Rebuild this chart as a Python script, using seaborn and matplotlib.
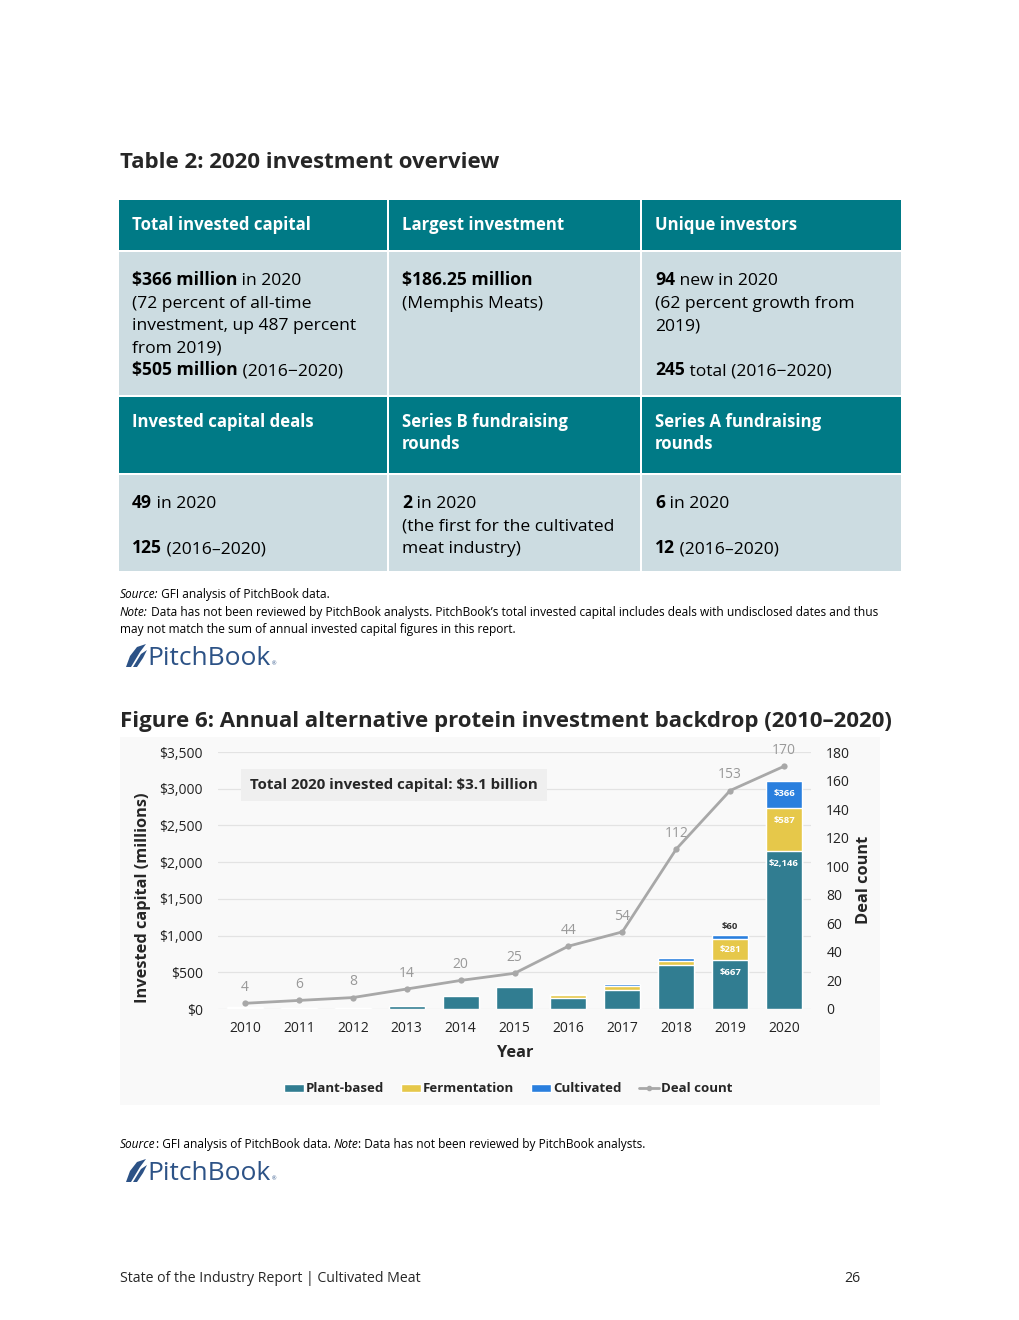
import numpy as np
import pandas as pd
import seaborn as sns
import matplotlib
matplotlib.use("Agg")
import matplotlib.pyplot as plt
from matplotlib.patches import Rectangle, Polygon, Patch
from matplotlib.lines import Line2D

# ---- data ----
years = ["2010", "2011", "2012", "2013", "2014", "2015", "2016", "2017", "2018", "2019", "2020"]
plant_based = [18, 10, 12, 38, 177, 298, 152, 262, 598, 667, 2146]
fermentation = [0, 0, 0, 6, 0, 4, 36, 54, 55, 281, 587]
cultivated = [4, 2, 2, 2, 2, 4, 14, 22, 40, 60, 366]
deal_count = [4, 6, 8, 14, 20, 25, 44, 54, 112, 153, 170]
capital_ticks = [0, 500, 1000, 1500, 2000, 2500, 3000, 3500]
count_ticks = [0, 20, 40, 60, 80, 100, 120, 140, 160, 180]

table_headers = [
    ["Total invested capital", "Largest investment", "Unique investors"],
    ["Invested capital deals", "Series B fundraising\nrounds", "Series A fundraising\nrounds"],
]
table_cells = [
    [
        [[("$366 million", "bold"), (" in 2020", "normal")],
         [("(72 percent of all-time", "normal")],
         [("investment, up 487 percent", "normal")],
         [("from 2019)", "normal")],
         [("$505 million", "bold"), (" (2016\u22122020)", "normal")]],
        [[("$186.25 million", "bold")],
         [("(Memphis Meats)", "normal")]],
        [[("94", "bold"), (" new in 2020", "normal")],
         [("(62 percent growth from", "normal")],
         [("2019)", "normal")],
         [("", "normal")],
         [("245", "bold"), (" total (2016\u22122020)", "normal")]],
    ],
    [
        [[("49", "bold"), (" in 2020", "normal")],
         [("", "normal")],
         [("125", "bold"), (" (2016\u20132020)", "normal")]],
        [[("2", "bold"), (" in 2020", "normal")],
         [("(the first for the cultivated", "normal")],
         [("meat industry)", "normal")]],
        [[("6", "bold"), (" in 2020", "normal")],
         [("", "normal")],
         [("12", "bold"), (" (2016\u20132020)", "normal")]],
    ],
]

TEAL = "#317D91"
YELLOW = "#E6C84A"
BLUE = "#2A7FDE"
GRAY_LINE = "#A8A8A8"
HEAD = "#007A86"
BODY = "#CCDCE1"
LOGO = "#2C5286"

W, H = 1020, 1320
FONT = ["Open Sans", "DejaVu Sans"]

sns.set_theme(style="white")
plt.rcParams["font.family"] = FONT

fig = plt.figure(figsize=(W / 100, H / 100), dpi=100)
fig.patch.set_facecolor("white")
renderer = fig.canvas.get_renderer()


def fx(x):
    return x / W


def fy(y):
    return 1 - y / H


def runs(x, y, parts, size, color="black"):
    # draw consecutive text runs (text, weight[, style]) on one baseline
    cx = x
    for part in parts:
        txt, weight = part[0], part[1]
        st = part[2] if len(part) > 2 else "normal"
        if not txt:
            continue
        t = fig.text(fx(cx), fy(y), txt, fontsize=size, fontweight=weight,
                     fontstyle=st, color=color, ha="left", va="baseline")
        cx = t.get_window_extent(renderer).x1


# ---- table ----
fig.text(fx(120), fy(163), "Table 2: 2020 investment overview", fontsize=16,
         fontweight="bold", ha="left", va="center")

col_x = [(119, 387), (389, 640), (642, 901)]
rows = [((200, 250), (252, 395)), ((397, 473), (475, 571))]
for r, ((h0, h1), (b0, b1)) in enumerate(rows):
    for c, (x0, x1) in enumerate(col_x):
        fig.add_artist(Rectangle((fx(x0), fy(h1)), fx(x1) - fx(x0), fy(h0) - fy(h1),
                                 transform=fig.transFigure, facecolor=HEAD, edgecolor="none"))
        fig.add_artist(Rectangle((fx(x0), fy(b1)), fx(x1) - fx(x0), fy(b0) - fy(b1),
                                 transform=fig.transFigure, facecolor=BODY, edgecolor="none"))
        for k, line in enumerate(table_headers[r][c].split("\n")):
            fig.text(fx(x0 + 13), fy(h0 + 30 + 22 * k), line, fontsize=12.1,
                     fontweight="bold", color="white", ha="left", va="baseline")
        for k, line in enumerate(table_cells[r][c]):
            runs(x0 + 13, b0 + 33 + 22.6 * k, line, 12.6)

runs(120, 598, [("Source:", "normal", "italic"), (" GFI analysis of PitchBook data.", "normal")], 8.6)
runs(120, 616, [("Note:", "normal", "italic"),
                (" Data has not been reviewed by PitchBook analysts. PitchBook\u2019s total invested "
                 "capital includes deals with undisclosed dates and thus", "normal")], 8.6)
runs(120, 633, [("may not match the sum of annual invested capital figures in this report.", "normal")], 8.6)


def logo(y):
    # feather mark + wordmark
    pts = [(126, y + 11), (131, y + 11), (140, y - 4), (146, y - 12), (137, y - 9), (130, y)]
    fig.add_artist(Polygon([(fx(a), fy(b)) for a, b in pts], closed=True,
                           transform=fig.transFigure, facecolor=LOGO, edgecolor="none"))
    pts = [(133, y + 11), (137, y + 11), (143, y + 2), (147, y - 6), (141, y - 2)]
    fig.add_artist(Polygon([(fx(a), fy(b)) for a, b in pts], closed=True,
                           transform=fig.transFigure, facecolor=LOGO, edgecolor="none"))
    runs(147, y + 9, [("PitchBook", "normal")], 19, color=LOGO)
    fig.text(fx(272), fy(y + 8), "\u00ae", fontsize=4, color=LOGO, ha="left", va="center")


logo(656)

# ---- figure 6 ----
fig.text(fx(120), fy(722), "Figure 6: Annual alternative protein investment backdrop (2010\u20132020)",
         fontsize=16, fontweight="bold", ha="left", va="center")

fig.add_artist(Rectangle((fx(120), fy(1105)), fx(880) - fx(120), fy(737) - fy(1105),
                         transform=fig.transFigure, facecolor="#F9F9F9", edgecolor="none", zorder=0))

ax = fig.add_axes([fx(218), fy(1009), fx(811) - fx(218), fy(752) - fy(1009)])
ax.set_facecolor("none")

df = pd.DataFrame({"year": years, "plant": plant_based, "ferm": fermentation, "cult": cultivated,
                   "deals": deal_count})
df["pf"] = df["plant"] + df["ferm"]
df["total"] = df["pf"] + df["cult"]

# stacked bars: draw totals first, then overlay the lower stacks
for col, color in [("total", BLUE), ("pf", YELLOW), ("plant", TEAL)]:
    sns.barplot(data=df, x="year", y=col, order=years, color=color, width=0.67,
                saturation=1, ax=ax, errorbar=None, zorder=2)

ax.set_xlim(-0.5, 10.5)
ax.set_ylim(0, 3500)
ax.set_yticks(capital_ticks)
ax.set_yticklabels([f"${v:,}" for v in capital_ticks])
ax.grid(axis="y", color="#E3E3E3", linewidth=0.9, zorder=0)
ax.set_axisbelow(True)
for s in ax.spines.values():
    s.set_visible(False)
ax.tick_params(axis="y", length=0, pad=11, labelsize=10, labelcolor="#222222")
ax.tick_params(axis="x", length=0, pad=9, labelsize=10, labelcolor="#222222")
ax.set_xlabel("")
ax.set_ylabel("")

# segment labels for 2019 and 2020
for i in [9, 10]:
    segs = [(plant_based[i], 0), (fermentation[i], plant_based[i])]
    if i == 10:
        segs.append((cultivated[i], plant_based[i] + fermentation[i]))
    for val, base in segs:
        ypos = base + val - min(val / 2, 170)
        ax.text(i, ypos, f"${val:,}", ha="center", va="center", color="white",
                fontsize=6.8, fontweight="bold", zorder=5)
ax.text(9, df["total"][9] + 120, f"${cultivated[9]:,}", ha="center", va="center",
        color="#333333", fontsize=6.8, fontweight="bold", zorder=5)

ax2 = ax.twinx()
sns.lineplot(x=np.arange(len(years)), y=deal_count, ax=ax2, color=GRAY_LINE, linewidth=2,
             marker="o", markersize=4.5, markeredgewidth=0, zorder=4)
ax2.set_ylim(0, 180)
ax2.set_yticks(count_ticks)
ax2.tick_params(axis="y", length=0, pad=11, labelsize=10, labelcolor="#222222")
ax2.grid(False)
for s in ax2.spines.values():
    s.set_visible(False)
for i, v in enumerate(deal_count):
    ax2.annotate(str(v), (i, v), xytext=(0, 6), textcoords="offset points", ha="center",
                 va="bottom", fontsize=10, color="#999999")

ax.text(0.054, 0.87, "Total 2020 invested capital: $3.1 billion", transform=ax.transAxes,
        fontsize=10.8, fontweight="bold", ha="left", va="center", zorder=6,
        bbox=dict(boxstyle="square,pad=0.6", facecolor="#EFEFEF", edgecolor="none"))

fig.text(fx(143), fy(898), "Invested capital (millions)", rotation=90, fontsize=11.8,
         fontweight="bold", ha="center", va="center")
fig.text(fx(864), fy(880), "Deal count", rotation=90, fontsize=11.8,
         fontweight="bold", ha="center", va="center")
fig.text(fx(515), fy(1053), "Year", fontsize=11.8, fontweight="bold", ha="center", va="center")

handles = [Patch(facecolor=TEAL, label="Plant-based"),
           Patch(facecolor=YELLOW, label="Fermentation"),
           Patch(facecolor=BLUE, label="Cultivated"),
           Line2D([0], [0], color=GRAY_LINE, lw=2, marker="o", markersize=3, label="Deal count")]
fig.legend(handles=handles, loc="center", bbox_to_anchor=(fx(508), fy(1089)), ncol=4,
           frameon=False, prop={"weight": "bold", "size": 9.5}, handlelength=1.5,
           handleheight=0.6, handletextpad=0.15, columnspacing=1.3)

runs(120, 1148, [("Source", "normal", "italic"), (": GFI analysis of PitchBook data. ", "normal"),
                 ("Note", "normal", "italic"), (": Data has not been reviewed by PitchBook analysts.", "normal")],
     8.6)
logo(1171)

fig.text(fx(120), fy(1278), "State of the Industry Report | Cultivated Meat", fontsize=10.2,
         ha="left", va="center")
fig.text(fx(852), fy(1278), "26", fontsize=10.2, ha="center", va="center")

fig.savefig("out.png", dpi=100)
